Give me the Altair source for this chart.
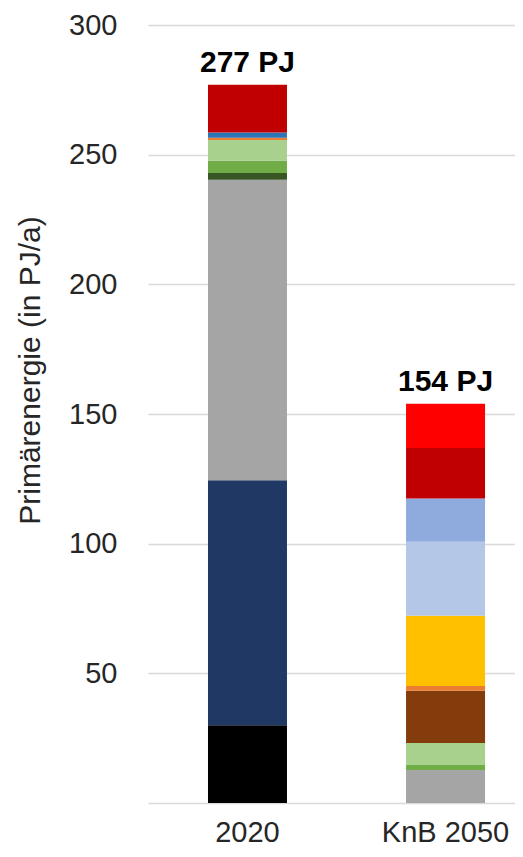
import altair as alt
import pandas as pd

categories = ["2020", "KnB 2050"]
series = ["Kohle", "Erdgas", "Mineralöl", "Abfall", "Biomasse", "Biogas",
          "Wasserstoff", "Solarthermie", "Photovoltaik", "Wind onshore",
          "Wind offshore", "Wasserkraft", "Stromimport", "Umweltwärme"]
colors = ["#000000", "#203864", "#A5A5A5", "#375623", "#70AD47", "#A9D18E",
          "#843C0C", "#ED7D31", "#FFC000", "#B4C7E7",
          "#8FAADC", "#2E75B6", "#C00000", "#FF0000"]
values_2020 = [30.0, 94.5, 115.8, 2.6, 4.8, 8.0,
               0.0, 0.8, 0.0, 0.0,
               0.0, 2.0, 18.5, 0.0]
values_2050 = [0.0, 0.0, 12.7, 0.0, 2.0, 8.4,
               20.2, 1.8, 27.1, 28.5,
               16.7, 0.0, 19.5, 17.1]
totals = [277, 154]
total_labels = ["277 PJ", "154 PJ"]

rows = []
for cat, vals in zip(categories, [values_2020, values_2050]):
    for i, (s, v) in enumerate(zip(series, vals)):
        if v > 0:
            rows.append({"Jahr": cat, "Träger": s, "Wert": v, "rank": i})
df = pd.DataFrame(rows)
tot = pd.DataFrame({"Jahr": categories, "Summe": totals, "Label": total_labels})

FONT = "Liberation Sans"

x_enc = alt.X("Jahr:N", sort=categories, title=None,
              scale=alt.Scale(paddingInner=0.601, paddingOuter=0.227, align=0.667),
              axis=alt.Axis(labelAngle=0, domain=False, ticks=False, tickSize=0,
                            labelPadding=38, labelBaseline="alphabetic",
                            labelFontSize=29, labelColor="#262626", labelFont=FONT,
                            grid=False))
y_scale = alt.Scale(domain=[0, 300], nice=False)

bars = alt.Chart(df).mark_bar(size=79).encode(
    x=x_enc,
    y=alt.Y("Wert:Q", stack="zero", scale=y_scale,
            title="Primärenergie (in PJ/a)",
            axis=alt.Axis(values=[0, 50, 100, 150, 200, 250, 300],
                          labelExpr="datum.value == 0 ? '' : datum.label",
                          domain=False, ticks=False, tickSize=0, labelPadding=31,
                          labelFontSize=29, labelColor="#262626", labelFont=FONT,
                          gridColor="#D9D9D9", gridWidth=1.5,
                          titleFontSize=30, titleFont=FONT, titleFontWeight="normal",
                          titleColor="#262626", titleX=-118, titleY=345,
                          titleBaseline="middle", titleAlign="center", titleAngle=-90)),
    color=alt.Color("Träger:N", sort=series,
                    scale=alt.Scale(domain=series, range=colors), legend=None),
    order=alt.Order("rank:Q", sort="ascending"),
)

labels = alt.Chart(tot).mark_text(fontSize=30, fontWeight="bold", font=FONT,
                                  color="#000000", baseline="alphabetic",
                                  dy=-13).encode(
    x=alt.X("Jahr:N", sort=categories),
    y=alt.Y("Summe:Q", scale=y_scale),
    text="Label:N",
)

chart = alt.layer(bars, labels).properties(
    width=367, height=778,
    padding={"left": 140, "top": 17, "right": 0, "bottom": 46},
    autosize=alt.AutoSizeParams(type="none"),
).configure_view(stroke=None)

chart.save("out.html", embed_options={"renderer": "svg", "actions": False})
